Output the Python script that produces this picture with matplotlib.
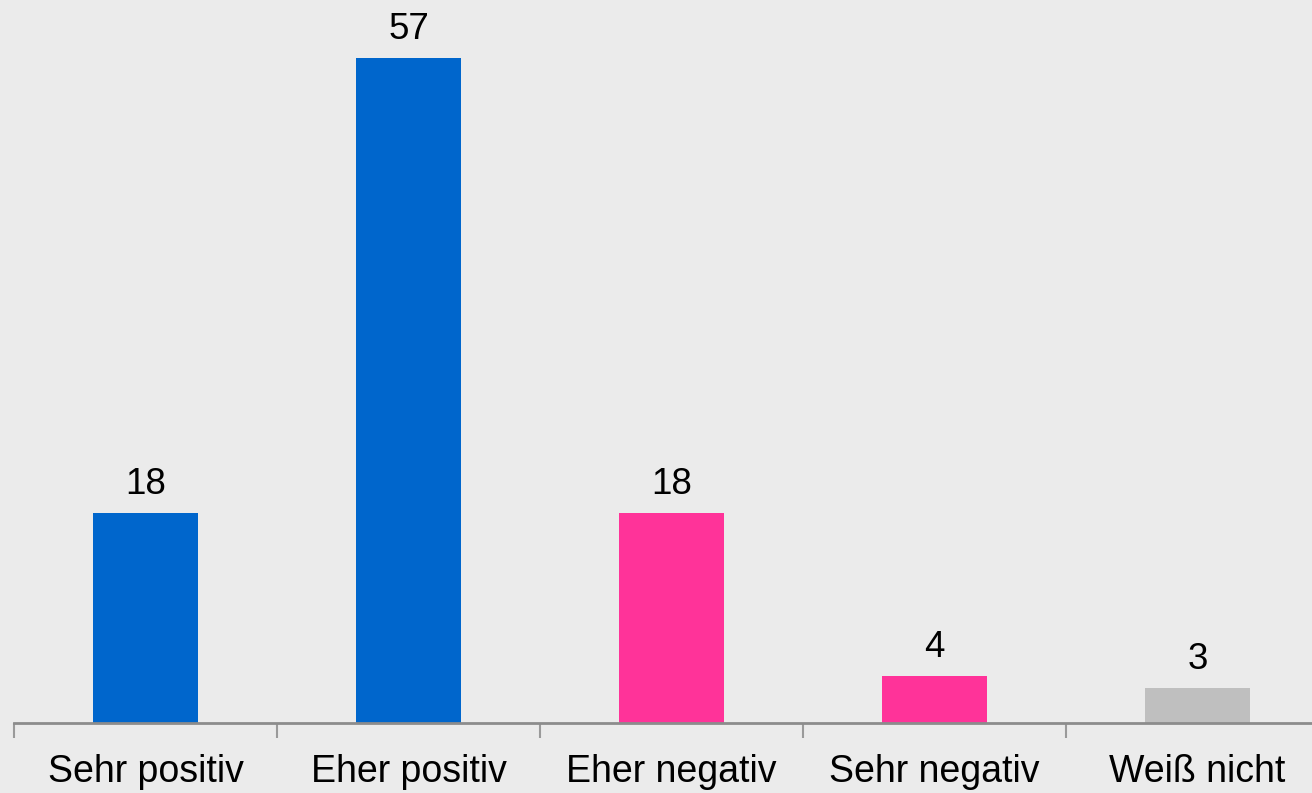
import matplotlib.pyplot as plt
import numpy as np

kategorien = ["Sehr positiv", "Eher positiv", "Eher negativ", "Sehr negativ", "Weiß nicht"]
werte = [18, 57, 18, 4, 3]
farben = ["#0066CC", "#0066CC", "#FF3399", "#FF3399", "#BFBFBF"]

plt.rcParams['font.family'] = ['Liberation Sans', 'DejaVu Sans']

fig = plt.figure(figsize=(13.12, 7.93), dpi=100, facecolor="#EBEBEB")
ax = fig.add_axes([14/1312, 70/793, 1315/1312, 700/793])
ax.set_facecolor("#EBEBEB")

x = np.arange(len(kategorien))
ax.bar(x, werte, width=0.4, color=farben)

for xi, w in zip(x, werte):
    ax.annotate(str(w), (xi, w), xytext=(0, 14), textcoords="offset points",
                ha="center", va="baseline", fontsize=26.5, color="black")

ax.set_xlim(-0.5, len(kategorien) - 0.5)
ax.set_ylim(0, 60)

# Striche zwischen den Kategorien, Beschriftung in der Mitte
ax.set_xticks(np.arange(-0.5, len(kategorien)), labels=[])
ax.set_xticks(x, labels=kategorien, minor=True)
ax.tick_params(axis="x", which="major", length=10.5, width=1.5, color="#9A9A9A")
ax.tick_params(axis="x", which="minor", length=0, pad=22, labelsize=27)
ax.set_yticks([])

for s in ["top", "right", "left"]:
    ax.spines[s].set_visible(False)
ax.spines["bottom"].set_color("#8C8C8C")
ax.spines["bottom"].set_linewidth(2)

fig.savefig("out.png", dpi=100, facecolor=fig.get_facecolor())
